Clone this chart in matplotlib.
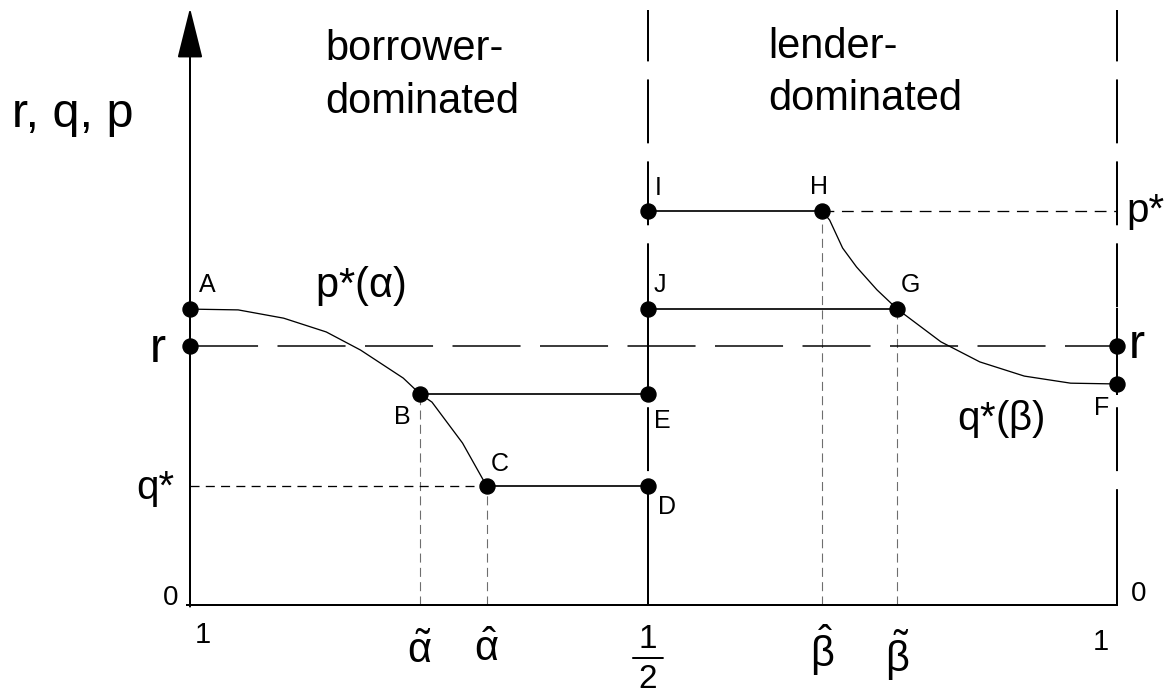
import matplotlib
matplotlib.use('Agg')
import matplotlib.pyplot as plt

plt.rcParams['font.family'] = ['Liberation Sans', 'DejaVu Sans']
plt.rcParams['mathtext.fontset'] = 'custom'
plt.rcParams['mathtext.rm'] = 'Liberation Sans'
plt.rcParams['mathtext.it'] = 'Liberation Sans'
plt.rcParams['mathtext.bf'] = 'Liberation Sans:bold'
plt.rcParams['lines.scale_dashes'] = False

# ---------------- data (x: 0 = alpha 1 ... 1 = beta 1 ; y: p* = 1) ----------------
x_half = 0.494
x_alpha_tilde = 0.248
x_alpha_hat = 0.320
x_beta_hat = 0.682
x_beta_tilde = 0.763
y_r = 0.657
y_qstar = 0.302
y_pstar = 1.0
y_A = 0.751
y_B = 0.536
y_J = 0.751
y_F = 0.561
y_top = 1.51

p_alpha_x = [0.0, 0.052, 0.101, 0.147, 0.184, 0.230, 0.248, 0.261, 0.294, 0.320]
p_alpha_y = [0.751, 0.749, 0.728, 0.693, 0.647, 0.576, 0.536, 0.515, 0.411, 0.302]
q_beta_x = [0.682, 0.690, 0.704, 0.719, 0.741, 0.763, 0.810, 0.852, 0.900, 0.950, 1.0]
q_beta_y = [1.0, 0.977, 0.906, 0.858, 0.800, 0.751, 0.668, 0.617, 0.581, 0.563, 0.561]

point_names = ['A', 'B', 'C', 'D', 'E', 'F', 'G', 'H', 'I', 'J']
point_x = [0.0, x_alpha_tilde, x_alpha_hat, x_half, x_half, 1.0, x_beta_tilde, x_beta_hat, x_half, x_half]
point_y = [y_A, y_B, y_qstar, y_qstar, y_B, y_F, y_J, y_pstar, y_pstar, y_J]
label_offsets_px = [(17, -24), (-18, 23), (13, -22), (19, 21), (14, 27),
                    (-15, 24), (13, -24), (-3, -24), (10, -23), (12, -24)]

bottom_labels = ['1', r'$\tilde{\alpha}$', r'$\hat{\alpha}$',
                 r'$\hat{\beta}$', r'$\tilde{\beta}$', '1']
half_num, half_den = '1', '2'

# ---------------- figure ----------------
W, H = 1170, 694
fig = plt.figure(figsize=(W / 100, H / 100), dpi=100)
ax = fig.add_axes([0, 0, 1, 1])
X0, Y0, SX, SY = 190, 605, 927, 394


def X(px):
    return (px - X0) / SX


def Y(py):
    return (Y0 - py) / SY


ax.set_xlim(X(0), X(W))
ax.set_ylim(Y(H), Y(0))
ax.axis('off')

PT = 0.72  # points per pixel

# axes
ax.plot([X(186), 1.0 + 1 / SX], [0, 0], color='black', lw=2 * PT, solid_capstyle='butt', zorder=3)
ax.annotate('', xy=(0, Y(8)), xytext=(0, -0.004),
            arrowprops=dict(arrowstyle='-|>,head_length=2.2,head_width=0.55',
                            mutation_scale=14.5, lw=2 * PT, color='black',
                            shrinkA=0, shrinkB=0), zorder=3)

# vertical long-dashed boundaries
for xv in [x_half, 1.0]:
    ax.plot([xv, xv], [y_top, 0], color='black', lw=2 * PT,
            linestyle=(9, (46, 13)), zorder=2)
    ax.plot([xv, xv], [Y(540), 0], color='black', lw=2 * PT, zorder=2)
    ax.plot([xv, xv], [y_B, Y(372)], color='black', lw=2 * PT, zorder=2)
    ax.plot([xv, xv], [y_J, y_r], color='black', lw=2 * PT, zorder=2)

# r line (long dashed)
ax.plot([0, 1.0], [y_r, y_r], color='black', lw=1.5 * PT, linestyle=(0, (49, 14)), zorder=2)

# q* and p* short dashed
ax.plot([0, x_alpha_hat], [y_qstar, y_qstar], color='black', lw=1.3 * PT,
        linestyle=(0, (6.5, 4.5)), zorder=2)
ax.plot([x_beta_hat, 1.0], [y_pstar, y_pstar], color='black', lw=1.3 * PT,
        linestyle=(0, (8.5, 5.5)), zorder=2)

# grey thin dashed verticals
for xv, yv in [(x_alpha_tilde, y_B), (x_alpha_hat, y_qstar), (x_beta_hat, y_pstar), (x_beta_tilde, y_J)]:
    ax.plot([xv, xv], [0, yv], color='#6e6e6e', lw=1.1 * PT, linestyle=(0, (6.5, 3.8)), zorder=1)

# horizontal solid segments
ax.plot([x_alpha_tilde, x_half], [y_B, y_B], color='black', lw=1.7 * PT, zorder=2)
ax.plot([x_alpha_hat, x_half], [y_qstar, y_qstar], color='black', lw=1.7 * PT, zorder=2)
ax.plot([x_half, x_beta_hat], [y_pstar, y_pstar], color='black', lw=1.7 * PT, zorder=2)
ax.plot([x_half, x_beta_tilde], [y_J, y_J], color='black', lw=1.7 * PT, zorder=2)

# curves
ax.plot(p_alpha_x, p_alpha_y, color='black', lw=1.3 * PT, zorder=2)
ax.plot(q_beta_x, q_beta_y, color='black', lw=1.3 * PT, zorder=2)

# dots
ax.plot(point_x, point_y, 'o', color='black', ms=15 * PT, zorder=4)
ax.plot([0, 1.0], [y_r, y_r], 'o', color='black', ms=15 * PT, zorder=4)

# point labels
for name, px_, py_, (dx, dy) in zip(point_names, point_x, point_y, label_offsets_px):
    ax.annotate(name, xy=(px_, py_), xytext=(dx * PT, -dy * PT), textcoords='offset points',
                ha='center', va='center', fontsize=18)

# texts
ax.text(X(12), Y(127), 'r, q, p', fontsize=35, ha='left', va='baseline')
ax.text(X(325), Y(60), 'borrower-', fontsize=30, ha='left', va='baseline')
ax.text(X(325), Y(113), 'dominated', fontsize=30, ha='left', va='baseline')
ax.text(X(768), Y(58), 'lender-', fontsize=30, ha='left', va='baseline')
ax.text(X(768), Y(110), 'dominated', fontsize=30, ha='left', va='baseline')
ax.text(X(315), Y(297), r'p*($\alpha$)', fontsize=30, ha='left', va='baseline')
ax.text(X(957), Y(430), r'q*($\beta$)', fontsize=29, ha='left', va='baseline')
ax.text(X(150), Y(362), 'r', fontsize=35, ha='left', va='baseline')
ax.text(X(1129), Y(358), 'r', fontsize=35, ha='left', va='baseline')
ax.text(X(136), Y(499), 'q*', fontsize=29, ha='left', va='baseline')
ax.text(X(1126), Y(222), 'p*', fontsize=29, ha='left', va='baseline')
ax.text(X(163), Y(605), '0', fontsize=20, ha='left', va='baseline')
ax.text(X(1131), Y(601), '0', fontsize=20, ha='left', va='baseline')

# bottom labels
bl_x = [X(203), x_alpha_tilde, x_alpha_hat, x_beta_hat, x_beta_tilde, X(1101)]
bl_y = [Y(635), Y(652), Y(650), Y(650), Y(655), Y(642)]
bl_fs = [21, 30, 30, 30, 30, 21]
for lab, xx, yy, fs in zip(bottom_labels, bl_x, bl_y, bl_fs):
    ax.text(xx, yy, lab, fontsize=fs, ha='center', va='center')

# the fraction 1/2 under the middle line
ax.text(x_half, Y(648), half_num, fontsize=24, ha='center', va='baseline')
ax.text(x_half, Y(688), half_den, fontsize=24, ha='center', va='baseline')
for side in (-1, 1):
    ax.annotate('', xy=(x_half, Y(658)), xytext=(side * 15 * PT, 0), textcoords='offset points',
                arrowprops=dict(arrowstyle='-', lw=2 * PT, color='black', shrinkA=0, shrinkB=0))

fig.savefig('out.png', dpi=100)
